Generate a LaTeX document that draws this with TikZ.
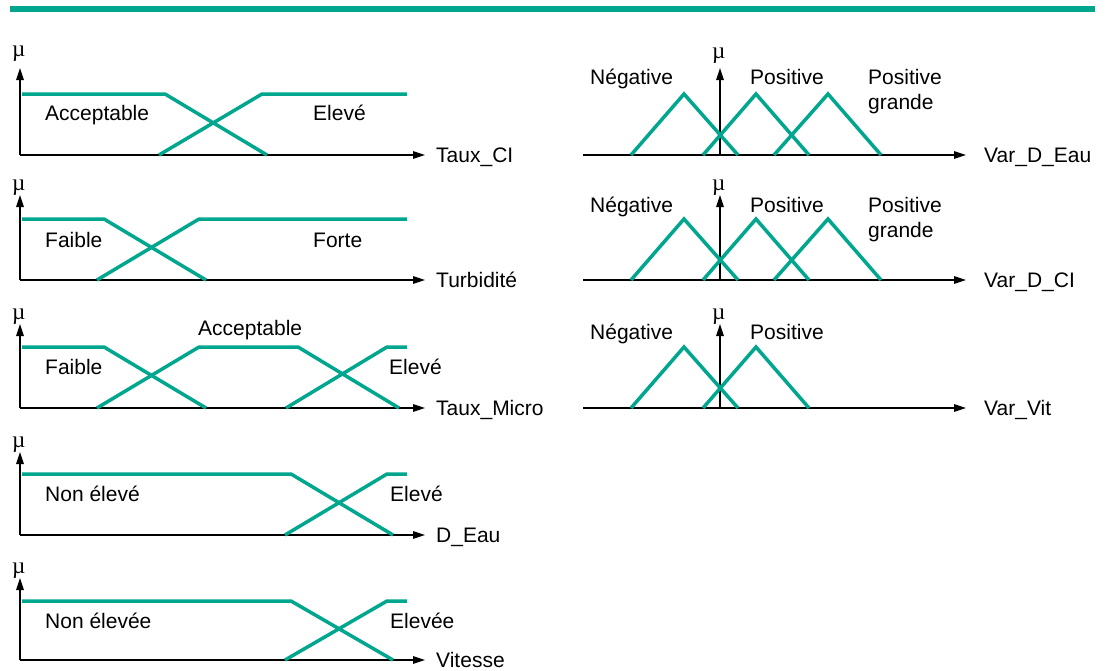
\documentclass[tikz,border=0pt]{standalone}
\usepackage{fontspec}
\setmainfont{Liberation Sans}
\newfontfamily\mufont{Liberation Serif}
\usetikzlibrary{arrows.meta}
\definecolor{mfgreen}{RGB}{0,166,142}
\begin{document}
\begin{tikzpicture}[x=1pt,y=-1pt,
  mf/.style={draw=mfgreen, line width=3.5pt, line join=miter},
  ax/.style={draw=black, line width=1.3pt, -{Triangle[length=12pt,width=7.5pt]}},
  lbl/.style={anchor=base west, inner sep=0pt, font=\fontsize{21}{24}\selectfont},
  mulbl/.style={anchor=base west, inner sep=0pt, font=\mufont\fontsize{23}{26}\selectfont}]
\useasboundingbox (0,0) rectangle (1108,670);
% top bar
\coordinate (barL) at (10,9);
\coordinate (barR) at (1095,9);
\draw[mfgreen, line width=6pt] (barL) -- (barR);

% ---------- left panels ----------
% panel 1 : Taux_CI
\coordinate (o1) at (20,155); \coordinate (y1) at (20,68); \coordinate (x1) at (425,155);
\draw[ax] (o1) -- (y1); \draw[ax] (o1) -- (x1);
\node[mulbl] (mu1) at (12,56) {µ};
\node[lbl] (t1) at (436,162.5) {Taux\_CI};
\draw[mf] (22,94) -- (165,94) -- (267,155);
\draw[mf] (159,155) -- (262,94) -- (407,94);
\node[lbl] (a1) at (45,120.5) {Acceptable};
\node[lbl] (b1) at (313,120.5) {Elevé};

% panel 2 : Turbidite
\coordinate (o2) at (20,280); \coordinate (y2) at (20,195); \coordinate (x2) at (425,280);
\draw[ax] (o2) -- (y2); \draw[ax] (o2) -- (x2);
\node[mulbl] (mu2) at (12,190) {µ};
\node[lbl] (t2) at (436,287.5) {Turbidité};
\draw[mf] (22,219) -- (104,219) -- (206,280);
\draw[mf] (97,280) -- (199,219) -- (407,219);
\node[lbl] (a2) at (45,247.5) {Faible};
\node[lbl] (b2) at (313,247.5) {Forte};

% panel 3 : Taux_Micro
\coordinate (o3) at (20,408); \coordinate (y3) at (20,324); \coordinate (x3) at (425,408);
\draw[ax] (o3) -- (y3); \draw[ax] (o3) -- (x3);
\node[mulbl] (mu3) at (12,319) {µ};
\node[lbl] (t3) at (436,415.5) {Taux\_Micro};
\draw[mf] (22,347) -- (104,347) -- (206,408);
\draw[mf] (97,408) -- (199,347) -- (298,347) -- (399,408);
\draw[mf] (286,408) -- (387,347) -- (407,347);
\node[lbl] (a3) at (45,374.5) {Faible};
\node[lbl] (b3) at (198,335.5) {Acceptable};
\node[lbl] (c3) at (389,374.5) {Elevé};

% panel 4 : D_Eau
\coordinate (o4) at (20,535); \coordinate (y4) at (20,452); \coordinate (x4) at (425,535);
\draw[ax] (o4) -- (y4); \draw[ax] (o4) -- (x4);
\node[mulbl] (mu4) at (12,447) {µ};
\node[lbl] (t4) at (436,542.5) {D\_Eau};
\draw[mf] (22,474) -- (291,474) -- (393,535);
\draw[mf] (285,535) -- (387,474) -- (407,474);
\node[lbl] (a4) at (45,501.5) {Non élevé};
\node[lbl] (b4) at (390,501.5) {Elevé};

% panel 5 : Vitesse
\coordinate (o5) at (20,660); \coordinate (y5) at (20,578); \coordinate (x5) at (425,660);
\draw[ax] (o5) -- (y5); \draw[ax] (o5) -- (x5);
\node[mulbl] (mu5) at (12,573) {µ};
\node[lbl] (t5) at (436,667.5) {Vitesse};
\draw[mf] (22,601) -- (291,601) -- (393,660);
\draw[mf] (285,660) -- (387,601) -- (407,601);
\node[lbl] (a5) at (45,628.5) {Non élevée};
\node[lbl] (b5) at (390,628.5) {Elevée};

% ---------- right panels ----------
% panel R1 : Var_D_Eau
\coordinate (p1) at (583,155); \coordinate (q1) at (966,155);
\coordinate (v1) at (720,155); \coordinate (w1) at (720,68);
\draw[ax] (p1) -- (q1); \draw[ax] (v1) -- (w1);
\node[mulbl] (m1) at (712,58) {µ};
\node[lbl] (r1) at (984,162.5) {Var\_D\_Eau};
\draw[mf] (631,155) -- (684,94) -- (738,155);
\draw[mf] (703,155) -- (756,94) -- (809,155);
\draw[mf] (774,155) -- (828,94) -- (881,155);
\node[lbl] (n1) at (590,84.5) {Négative};
\node[lbl] (s1) at (750,84.5) {Positive};
\node[lbl] (g1) at (868,84.5) {Positive};
\node[lbl] (h1) at (868,109.5) {grande};

% panel R2 : Var_D_CI
\coordinate (p2) at (583,280); \coordinate (q2) at (966,280);
\coordinate (v2) at (720,280); \coordinate (w2) at (720,195);
\draw[ax] (p2) -- (q2); \draw[ax] (v2) -- (w2);
\node[mulbl] (m2) at (712,190) {µ};
\node[lbl] (r2) at (984,287.5) {Var\_D\_CI};
\draw[mf] (631,280) -- (684,219) -- (738,280);
\draw[mf] (703,280) -- (756,219) -- (809,280);
\draw[mf] (774,280) -- (828,219) -- (881,280);
\node[lbl] (n2) at (590,212.5) {Négative};
\node[lbl] (s2) at (750,212.5) {Positive};
\node[lbl] (g2) at (868,212.5) {Positive};
\node[lbl] (h2) at (868,237.5) {grande};

% panel R3 : Var_Vit
\coordinate (p3) at (583,408); \coordinate (q3) at (966,408);
\coordinate (v3) at (720,408); \coordinate (w3) at (720,324);
\draw[ax] (p3) -- (q3); \draw[ax] (v3) -- (w3);
\node[mulbl] (m3) at (712,319) {µ};
\node[lbl] (r3) at (984,415.5) {Var\_Vit};
\draw[mf] (631,408) -- (684,347) -- (738,408);
\draw[mf] (703,408) -- (756,347) -- (809,408);
\node[lbl] (n3) at (590,339.5) {Négative};
\node[lbl] (s3) at (750,339.5) {Positive};
\end{tikzpicture}
\end{document}
